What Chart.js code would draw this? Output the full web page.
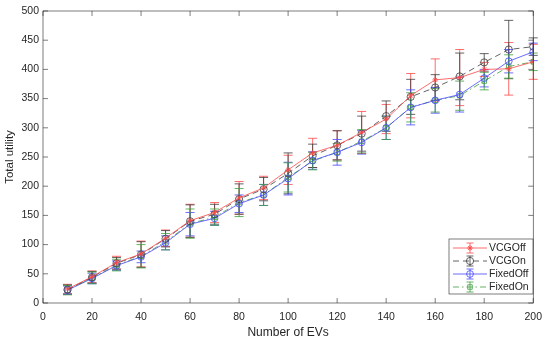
<!DOCTYPE html>
<html>
<head>
	<title></title>
	<script type="text/javascript" src="https://cdn.jsdelivr.net/npm/chart.js"></script>
	<style>
		body { margin:0; background:#fff; }
	</style>
</head>
<body>
	<canvas id="chart" width="550" height="340"></canvas>
	<script>
		// x axis: number of EVs
		var evCounts = [10,20,30,40,50,60,70,80,90,100,110,120,130,140,150,160,170,180,190,200];

		var vcgOff    = [24,45,69,84,111,141,155,180,197,228,257,270,292,315,355,382,386,400,401,413];
		var vcgOffErr = [8,10,11,22,14,28,17,28,20,25,25,25,36,25,38,36,48,12,45,30];

		var vcgOn     = [23,44,68,83,110,140,152,178,195,222,252,270,290,320,353,369,388,412,434,439];
		var vcgOnErr  = [8,10,10,22,14,28,17,26,20,35,20,25,30,26,30,22,40,15,50,15];

		var fixedOff    = [22,42,64,79,103,135,145,170,185,213,244,258,275,300,335,347,357,385,414,430];
		var fixedOffErr = [7,9,8,10,12,20,12,15,18,28,15,22,20,20,30,22,30,15,20,15];

		var fixedOn    = [22,43,65,80,105,136,147,172,185,215,243,258,277,300,335,347,355,380,405,413];
		var fixedOnErr = [8,10,10,20,14,25,14,24,18,25,15,15,20,20,25,20,25,15,20,15];

		var yTicks = [0,50,100,150,200,250,300,350,400,450,500];
		var xTicks = [0,20,40,60,80,100,120,140,160,180,200];

		function toPts(vals){
			var out = [];
			for(var i = 0; i < evCounts.length; i++){
				out.push({x: evCounts[i], y: vals[i]});
			}
			return out;
		}

		var series = [
			{label:"VCGOff",   data:vcgOff,   err:vcgOffErr,   color:"rgb(255,70,70)",  dash:[],          point:"star",   r:2.8},
			{label:"VCGOn",    data:vcgOn,    err:vcgOnErr,    color:"rgb(60,60,60)",   dash:[6,4],       point:"circle", r:3.6},
			{label:"FixedOff", data:fixedOff, err:fixedOffErr, color:"rgb(70,70,255)",  dash:[],          point:"circle", r:3.4},
			{label:"FixedOn",  data:fixedOn,  err:fixedOnErr,  color:"rgb(60,160,60)",  dash:[6,3,1.5,3], point:"rect",   r:3.2}
		];

		var _datasets = series.map(function(s){
			return {
				label: s.label,
				data: toPts(s.data),
				errs: s.err,
				borderColor: s.color,
				backgroundColor: s.color,
				borderWidth: 0.8,
				borderDash: s.dash,
				pointStyle: s.point,
				pointRadius: s.r,
				pointBorderColor: s.color,
				pointBackgroundColor: "rgba(0,0,0,0)",
				pointBorderWidth: 0.8,
				tension: 0,
				fill: false
			};
		});

		var CAP = 4.5;

		// error bars drawn through the scales
		var errorBars = {
			id: "errorBars",
			beforeDatasetsDraw: function(chart){
				var ctx = chart.ctx;
				var ys = chart.scales.y;
				chart.data.datasets.forEach(function(ds, di){
					var meta = chart.getDatasetMeta(di);
					ctx.save();
					ctx.strokeStyle = ds.borderColor;
					ctx.lineWidth = 0.8;
					meta.data.forEach(function(pt, i){
						var v = ds.data[i].y, e = ds.errs[i];
						var top = ys.getPixelForValue(v + e);
						var bot = ys.getPixelForValue(v - e);
						ctx.beginPath();
						ctx.moveTo(pt.x, top); ctx.lineTo(pt.x, bot);
						ctx.moveTo(pt.x - CAP, top); ctx.lineTo(pt.x + CAP, top);
						ctx.moveTo(pt.x - CAP, bot); ctx.lineTo(pt.x + CAP, bot);
						ctx.stroke();
					});
					ctx.restore();
				});
			}
		};

		// box + inward ticks like matlab
		var boxTicks = {
			id: "boxTicks",
			afterDraw: function(chart){
				var ctx = chart.ctx;
				var a = chart.chartArea;
				var xs = chart.scales.x, ys = chart.scales.y;
				ctx.save();
				ctx.strokeStyle = "#262626";
				ctx.lineWidth = 0.6;
				ctx.strokeRect(a.left, a.top, a.right - a.left, a.bottom - a.top);
				ctx.beginPath();
				xs.ticks.forEach(function(t){
					var px = xs.getPixelForValue(t.value);
					ctx.moveTo(px, a.bottom); ctx.lineTo(px, a.bottom - 5);
					ctx.moveTo(px, a.top); ctx.lineTo(px, a.top + 5);
				});
				ys.ticks.forEach(function(t){
					var py = ys.getPixelForValue(t.value);
					ctx.moveTo(a.left, py); ctx.lineTo(a.left + 5, py);
					ctx.moveTo(a.right, py); ctx.lineTo(a.right - 5, py);
				});
				ctx.stroke();
				ctx.restore();
			}
		};

		// legend box inside lower right
		var boxLegend = {
			id: "boxLegend",
			afterDraw: function(chart){
				var ctx = chart.ctx;
				var bx = 449, by = 239, bw = 84, bh = 55;
				ctx.save();
				ctx.fillStyle = "#fff";
				ctx.fillRect(bx, by, bw, bh);
				ctx.strokeStyle = "#262626";
				ctx.lineWidth = 0.6;
				ctx.strokeRect(bx, by, bw, bh);
				chart.data.datasets.forEach(function(ds, i){
					var y = by + 9 + i * 13;
					var cx = 470;
					ctx.strokeStyle = ds.borderColor;
					ctx.lineWidth = 0.8;
					ctx.setLineDash(ds.borderDash);
					ctx.beginPath();
					ctx.moveTo(453, y); ctx.lineTo(487, y);
					ctx.stroke();
					ctx.setLineDash([]);
					ctx.beginPath();
					ctx.moveTo(cx, y - 5); ctx.lineTo(cx, y + 5);
					ctx.moveTo(cx - 3.5, y - 5); ctx.lineTo(cx + 3.5, y - 5);
					ctx.moveTo(cx - 3.5, y + 5); ctx.lineTo(cx + 3.5, y + 5);
					ctx.stroke();
					ctx.fillStyle = "rgba(0,0,0,0)";
					Chart.helpers.drawPoint(ctx, {pointStyle: ds.pointStyle, radius: ds.pointRadius, rotation: 0, borderWidth: 0.8}, cx, y);
					ctx.fillStyle = "#262626";
					ctx.font = "10.5px 'Liberation Sans'";
					ctx.textAlign = "left";
					ctx.textBaseline = "middle";
					ctx.fillText(ds.label, 489, y + 0.5);
				});
				ctx.restore();
			}
		};

		var canvas = document.getElementById('chart').getContext('2d');
		window.line = new Chart(canvas, {
			type: "line",
			data: { datasets: _datasets },
			plugins: [errorBars, boxTicks, boxLegend],
			options: {
				responsive: false,
				animation: false,
				layout: { padding: { top: 11, right: 12, left: 0, bottom: 0 } },
				plugins: {
					legend: { display: false },
					tooltip: { enabled: false }
				},
				scales: {
					x: {
						type: "linear",
						min: 0, max: 200,
						afterBuildTicks: function(s){ s.ticks = xTicks.map(function(v){ return {value:v}; }); },
						afterFit: function(s){ s.height = 37; },
						grid: { display: false, drawTicks: false },
						border: { display: false },
						ticks: { padding: 8, color: "#262626", font: { family: "Liberation Sans", size: 10.5 }, maxRotation: 0 },
						title: { display: true, text: "Number of EVs", color: "#262626", padding: {top: 0, bottom: 0}, font: { family: "Liberation Sans", size: 12 } }
					},
					y: {
						min: 0, max: 500,
						afterBuildTicks: function(s){ s.ticks = yTicks.map(function(v){ return {value:v}; }); },
						afterFit: function(s){ s.width = 43; },
						grid: { display: false, drawTicks: false },
						border: { display: false },
						ticks: { padding: 4, color: "#262626", font: { family: "Liberation Sans", size: 10.5 } },
						title: { display: true, text: "Total utility", color: "#262626", padding: {top: 3, bottom: 2}, font: { family: "Liberation Sans", size: 11.5 } }
					}
				}
			}
		});
	</script>
</body>
</html>
